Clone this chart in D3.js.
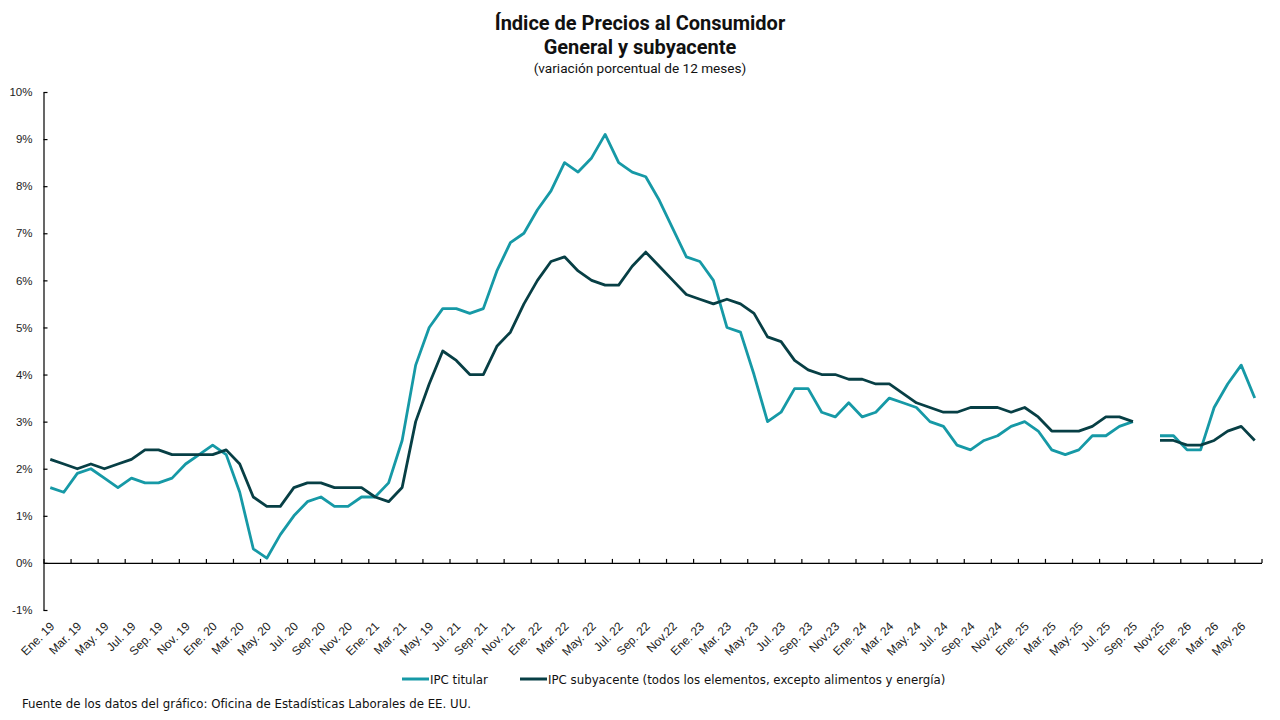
<!DOCTYPE html>
<html lang="es">
<head>
<meta charset="utf-8">
<script src="https://cdn.jsdelivr.net/npm/d3@7"></script>
<style>
  html, body { margin: 0; padding: 0; background: #ffffff; }
  svg { display: block; }
</style>
</head>
<body>
<svg id="chart" width="1280" height="720"></svg>
<script>
// months Jan 2019 .. Jun 2026 (Oct 2025 has no data)
const monthAbbr = ["Ene", "Feb", "Mar", "Abr", "May", "Jun", "Jul", "Ago", "Sep", "Oct", "Nov", "Dic"];
const years = [19, 20, 21, 22, 23, 24, 25, 26];
const months = [];
years.forEach((y) => monthAbbr.forEach((m, i) => {
  if (y < 26 || i < 6) months.push(`${m}. ${y}`);
}));

// labels shown every second month, as printed on the original
const tickLabels = [
  "Ene. 19", "Mar. 19", "May. 19", "Jul. 19", "Sep. 19", "Nov. 19",
  "Ene. 20", "Mar. 20", "May. 20", "Jul. 20", "Sep. 20", "Nov. 20",
  "Ene. 21", "Mar. 21", "May. 19", "Jul. 21", "Sep. 21", "Nov. 21",
  "Ene. 22", "Mar. 22", "May. 22", "Jul. 22", "Sep. 22", "Nov.22",
  "Ene. 23", "Mar. 23", "May. 23", "Jul. 23", "Sep. 23", "Nov.23",
  "Ene. 24", "Mar. 24", "May. 24", "Jul. 24", "Sep. 24", "Nov.24",
  "Ene. 25", "Mar. 25", "May. 25", "Jul. 25", "Sep. 25", "Nov.25",
  "Ene. 26", "Mar. 26", "May. 26"
];

const yTicks = [-1, 0, 1, 2, 3, 4, 5, 6, 7, 8, 9, 10];

const headline = [
  1.6, 1.5, 1.9, 2.0, 1.8, 1.6, 1.8, 1.7, 1.7, 1.8, 2.1, 2.3,
  2.5, 2.3, 1.5, 0.3, 0.1, 0.6, 1.0, 1.3, 1.4, 1.2, 1.2, 1.4,
  1.4, 1.7, 2.6, 4.2, 5.0, 5.4, 5.4, 5.3, 5.4, 6.2, 6.8, 7.0,
  7.5, 7.9, 8.5, 8.3, 8.6, 9.1, 8.5, 8.3, 8.2, 7.7, 7.1, 6.5,
  6.4, 6.0, 5.0, 4.9, 4.0, 3.0, 3.2, 3.7, 3.7, 3.2, 3.1, 3.4,
  3.1, 3.2, 3.5, 3.4, 3.3, 3.0, 2.9, 2.5, 2.4, 2.6, 2.7, 2.9,
  3.0, 2.8, 2.4, 2.3, 2.4, 2.7, 2.7, 2.9, 3.0, null, 2.7, 2.7,
  2.4, 2.4, 3.3, 3.8, 4.2, 3.5
];

const core = [
  2.2, 2.1, 2.0, 2.1, 2.0, 2.1, 2.2, 2.4, 2.4, 2.3, 2.3, 2.3,
  2.3, 2.4, 2.1, 1.4, 1.2, 1.2, 1.6, 1.7, 1.7, 1.6, 1.6, 1.6,
  1.4, 1.3, 1.6, 3.0, 3.8, 4.5, 4.3, 4.0, 4.0, 4.6, 4.9, 5.5,
  6.0, 6.4, 6.5, 6.2, 6.0, 5.9, 5.9, 6.3, 6.6, 6.3, 6.0, 5.7,
  5.6, 5.5, 5.6, 5.5, 5.3, 4.8, 4.7, 4.3, 4.1, 4.0, 4.0, 3.9,
  3.9, 3.8, 3.8, 3.6, 3.4, 3.3, 3.2, 3.2, 3.3, 3.3, 3.3, 3.2,
  3.3, 3.1, 2.8, 2.8, 2.8, 2.9, 3.1, 3.1, 3.0, null, 2.6, 2.6,
  2.5, 2.5, 2.6, 2.8, 2.9, 2.6
];

const series = [
  { name: "IPC titular", values: headline, color: "#1699a6" },
  { name: "IPC subyacente (todos los elementos, excepto alimentos y energía)", values: core, color: "#073f45" }
];

const width = 1280;
const height = 720;
const margin = { top: 92, right: 18.5, bottom: 110, left: 43.5 };
const axisFont = "'Liberation Sans', Arial, sans-serif";
const narrowFont = "'Liberation Sans Narrow', 'DejaVu Sans Condensed', sans-serif";

const svg = d3.select("#chart");
svg.append("rect").attr("width", width).attr("height", height).attr("fill", "#ffffff");

const x = d3.scaleBand()
  .domain(months)
  .range([margin.left, width - margin.right])
  .padding(0);

// boundary scale for the tick marks between months
const xEdge = d3.scaleLinear()
  .domain([0, months.length])
  .range([margin.left, width - margin.right]);

const y = d3.scaleLinear()
  .domain([-1, 10])
  .range([height - margin.bottom, margin.top]);

const cx = (i) => x(months[i]) + x.bandwidth() / 2;

// titles
const titles = svg.append("g").attr("text-anchor", "middle").attr("fill", "#111111");
titles.append("text")
  .attr("x", 640).attr("y", 29.5)
  .attr("font-family", "Roboto, sans-serif")
  .attr("font-weight", 700)
  .attr("font-size", 20)
  .text("Índice de Precios al Consumidor");
titles.append("text")
  .attr("x", 640).attr("y", 53.5)
  .attr("font-family", "Roboto, sans-serif")
  .attr("font-weight", 700)
  .attr("font-size", 20)
  .text("General y subyacente");
titles.append("text")
  .attr("x", 640).attr("y", 72.5)
  .attr("font-family", "Roboto, sans-serif")
  .attr("font-size", 13.6)
  .text("(variación porcentual de 12 meses)");

// y axis, ticks pointing inward
const yAxis = svg.append("g")
  .attr("transform", `translate(${margin.left},0)`)
  .call(d3.axisLeft(y)
    .tickValues(yTicks)
    .tickSizeInner(-4)
    .tickSizeOuter(0)
    .tickPadding(11)
    .tickFormat((d) => `${d}%`));
yAxis.select(".domain").attr("stroke", "#000").attr("stroke-width", 1.2);
yAxis.selectAll(".tick line").attr("stroke", "#000").attr("stroke-width", 1.2);
yAxis.selectAll(".tick text")
  .attr("font-family", axisFont)
  .attr("font-size", 11.5)
  .attr("fill", "#222");

// x axis on the zero line, tick marks every two months pointing up
const xAxis = svg.append("g")
  .attr("transform", `translate(0,${y(0)})`)
  .call(d3.axisBottom(xEdge)
    .tickValues(d3.range(0, months.length + 1, 2))
    .tickSizeInner(-4)
    .tickSizeOuter(0)
    .tickFormat(""));
xAxis.select(".domain").attr("stroke", "#000").attr("stroke-width", 1.2);
xAxis.selectAll(".tick line").attr("stroke", "#000").attr("stroke-width", 1.2);

// month labels at the bottom of the plot, rotated
svg.append("g")
  .selectAll("text")
  .data(tickLabels)
  .join("text")
  .attr("transform", (d, i) => `translate(${cx(i * 2) + 5},${y(-1) + 17}) rotate(-45)`)
  .attr("text-anchor", "end")
  .attr("font-family", axisFont)
  .attr("font-size", 12)
  .attr("fill", "#222")
  .text((d) => d);

// lines
const line = d3.line()
  .defined((d) => d != null)
  .x((d, i) => cx(i))
  .y((d) => y(d));

svg.append("g")
  .attr("fill", "none")
  .selectAll("path")
  .data(series)
  .join("path")
  .attr("d", (s) => line(s.values))
  .attr("stroke", (s) => s.color)
  .attr("stroke-width", 2.8)
  .attr("stroke-linejoin", "round")
  .attr("stroke-linecap", "butt");

// legend
const legendX = [402, 520];
const legend = svg.append("g")
  .selectAll("g")
  .data(series)
  .join("g")
  .attr("transform", (d, i) => `translate(${legendX[i]},679)`);
legend.append("line")
  .attr("x1", 0).attr("x2", 27)
  .attr("stroke", (d) => d.color)
  .attr("stroke-width", 3);
legend.append("text")
  .attr("x", 28)
  .attr("dy", "0.35em")
  .attr("font-family", narrowFont)
  .attr("font-size", 13.1)
  .attr("fill", "#111")
  .text((d) => d.name);

// source note
svg.append("text")
  .attr("x", 22).attr("y", 708)
  .attr("font-family", narrowFont)
  .attr("font-size", 13.1)
  .attr("fill", "#111")
  .text("Fuente de los datos del gráfico: Oficina de Estadísticas Laborales de EE. UU.");
</script>
</body>
</html>
